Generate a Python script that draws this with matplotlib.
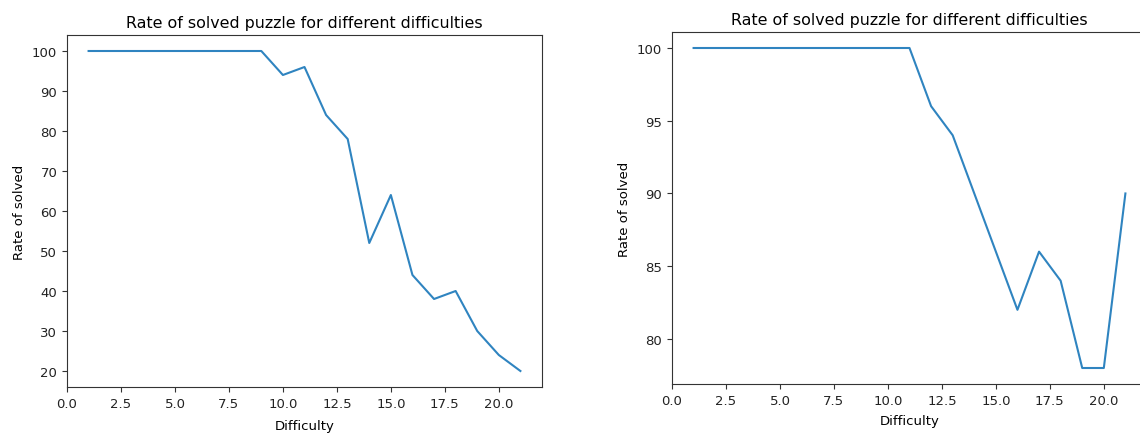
import numpy as np
import matplotlib.pyplot as plt

plt.rcParams["font.size"] = 9.5

difficulty = list(range(1, 22))

# left run
solved_a = [100, 100, 100, 100, 100, 100, 100, 100, 100, 94, 96,
            84, 78, 52, 64, 44, 38, 40, 30, 24, 20]
# right run
solved_b = [100, 100, 100, 100, 100, 100, 100, 100, 100, 100, 100,
            96, 94, 90, 86, 82, 86, 84, 78, 78, 90]

W, H = 1140, 435
fig = plt.figure(figsize=(W / 100, H / 100), dpi=100)

# axes boxes in pixels: left, top, width, height, xlabel pad
boxes = [(67, 36, 475, 352, 7), (672, 33, 475, 352, 5)]

for (x0, y0, w, h, pad), vals in zip(boxes, [solved_a, solved_b]):
    ax = fig.add_axes([x0 / W, 1 - (y0 + h) / H, w / W, h / H])
    ax.plot(difficulty, vals, color="#2f84c0", lw=1.5)
    ax.set_xlim(0, 22)
    ax.set_title("Rate of solved puzzle for different difficulties", fontsize=11.4)
    ax.set_xlabel("Difficulty", labelpad=pad)
    ax.set_ylabel("Rate of solved")
    ax.set_xticks(np.arange(0, 22.5, 2.5))
    for s in ax.spines.values():
        s.set_color("#333333")
    ax.tick_params(colors="#333333", labelcolor="#222222")

fig.savefig("out.png", dpi=100)
